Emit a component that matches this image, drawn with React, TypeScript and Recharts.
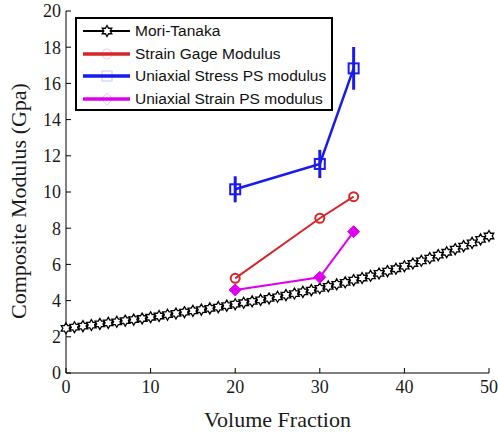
import { LineChart, Line, XAxis, YAxis, ErrorBar, Legend, Label } from 'recharts';

const volumeFractions = [
  0, 1, 2, 3, 4, 5, 6, 7, 8, 9, 10, 11, 12, 13, 14, 15, 16, 17, 18, 19, 20, 21, 22, 23, 24, 25,
  26, 27, 28, 29, 30, 31, 32, 33, 34, 35, 36, 37, 38, 39, 40, 41, 42, 43, 44, 45, 46, 47, 48, 49, 50,
];
const moriTanaka = [
  2.47, 2.53, 2.59, 2.65, 2.71, 2.77, 2.83, 2.89, 2.95, 3.01, 3.08,
  3.15, 3.22, 3.29, 3.36, 3.43, 3.5, 3.57, 3.64, 3.72, 3.8,
  3.88, 3.96, 4.04, 4.12, 4.21, 4.3, 4.39, 4.48, 4.58, 4.68,
  4.79, 4.9, 5.01, 5.13, 5.25, 5.37, 5.5, 5.63, 5.76, 5.9,
  6.05, 6.2, 6.35, 6.51, 6.67, 6.84, 7.01, 7.19, 7.38, 7.57,
];

const testFractions = [20, 30, 34];
const strainGage = [5.23, 8.55, 9.74];
const stressPS = [10.15, 11.55, 16.83];
const stressPSErr = [0.72, 0.78, 1.18];
const strainPS = [4.59, 5.29, 7.81];

const xTicks = [0, 10, 20, 30, 40, 50];
const yTicks = [0, 2, 4, 6, 8, 10, 12, 14, 16, 18, 20];

const RED = '#d7262b';
const BLUE = '#1a1aee';
const MAGENTA = '#dd00f0';

const moriData = volumeFractions.map((x, i) => ({ x, y: moriTanaka[i] }));
const gageData = testFractions.map((x, i) => ({ x, y: strainGage[i] }));
const stressData = testFractions.map((x, i) => ({ x, y: stressPS[i], err: stressPSErr[i] }));
const strainData = testFractions.map((x, i) => ({ x, y: strainPS[i] }));

function hexagramPath(cx: number, cy: number, r: number) {
  const pts: string[] = [];
  for (let k = 0; k < 12; k++) {
    const a = (k * 30 - 90) * (Math.PI / 180);
    const rr = k % 2 === 0 ? r : r / Math.sqrt(3);
    pts.push(`${cx + rr * Math.cos(a)},${cy + rr * Math.sin(a)}`);
  }
  return 'M' + pts.join('L') + 'Z';
}

const Hexagram = (p: any) => (
  <path key={`h${p.index}`} d={hexagramPath(p.cx, p.cy, 5.5)} fill="#fff" stroke="#000" strokeWidth={1.3} />
);
const Circle = (p: any) => (
  <circle key={`c${p.index}`} cx={p.cx} cy={p.cy} r={4.5} fill="none" stroke={RED} strokeWidth={2} />
);
const Square = (p: any) => (
  <rect key={`s${p.index}`} x={p.cx - 5} y={p.cy - 5} width={10} height={10} fill="none" stroke={BLUE} strokeWidth={2} />
);
const Diamond = (p: any) => (
  <path
    key={`d${p.index}`}
    d={`M${p.cx},${p.cy - 6}L${p.cx + 6},${p.cy}L${p.cx},${p.cy + 6}L${p.cx - 6},${p.cy}Z`}
    fill={MAGENTA}
    stroke={MAGENTA}
    strokeWidth={1}
  />
);

const legendItems = [
  { name: 'Mori-Tanaka', color: '#000', width: 2, marker: 'hex' },
  { name: 'Strain Gage Modulus', color: RED, width: 3.5, marker: 'circle' },
  { name: 'Uniaxial Stress PS modulus', color: BLUE, width: 3.5, marker: 'square' },
  { name: 'Uniaxial Strain PS modulus', color: MAGENTA, width: 3.5, marker: 'diamond' },
];

function LegendIcon({ color, width, marker }: { color: string; width: number; marker: string }) {
  const cx = 30;
  const cy = 11;
  return (
    <svg width={56} height={22} style={{ display: 'block' }}>
      <line x1={6} x2={53} y1={cy} y2={cy} stroke={color} strokeWidth={width} />
      {marker === 'hex' && <path d={hexagramPath(cx, cy, 5.5)} fill="#fff" stroke="#000" strokeWidth={1.3} />}
      {marker === 'circle' && <circle cx={cx} cy={cy} r={5} fill="none" stroke={color} strokeOpacity={0.25} />}
      {marker === 'square' && (
        <rect x={cx - 5} y={cy - 5} width={10} height={10} fill="none" stroke={color} strokeOpacity={0.25} />
      )}
      {marker === 'diamond' && (
        <path d={`M${cx},${cy - 6}L${cx + 6},${cy}L${cx},${cy + 6}L${cx - 6},${cy}Z`} fill="none" stroke={color} strokeOpacity={0.25} />
      )}
    </svg>
  );
}

function LegendBox() {
  return (
    <div
      style={{
        width: 258,
        height: 94,
        boxSizing: 'border-box',
        border: '2px solid #000',
        background: '#fff',
        paddingTop: 1,
        fontFamily: 'Liberation Sans, Arial, sans-serif',
        fontSize: 15.5,
        color: '#111',
      }}
    >
      {legendItems.map((it) => (
        <div key={it.name} style={{ display: 'flex', alignItems: 'center', height: 22.5 }}>
          <LegendIcon color={it.color} width={it.width} marker={it.marker} />
          <span style={{ marginLeft: 2, whiteSpace: 'nowrap' }}>{it.name}</span>
        </div>
      ))}
    </div>
  );
}

const serif = 'Liberation Serif, Times New Roman, serif';
const tickStyle = { fill: '#1a1a1a', fontSize: 18, fontFamily: serif };

export default function App() {
  return (
    <div style={{ position: 'absolute', left: 0, top: 0, width: 498, height: 434, background: '#fff' }}>
      <LineChart width={498} height={434} margin={{ top: 11, right: 9, bottom: 0, left: 0 }}>
        <XAxis
          type="number"
          dataKey="x"
          domain={[0, 50]}
          ticks={xTicks}
          allowDuplicatedCategory={false}
          height={61}
          tickSize={-5}
          tickMargin={12}
          stroke="#000"
          tick={tickStyle}
          tickLine={{ stroke: '#000' }}
        >
          <Label
            value="Volume Fraction"
            position="insideBottom"
            offset={7}
            style={{ fill: '#1a1a1a', fontSize: 22, fontFamily: serif }}
          />
        </XAxis>
        <YAxis
          type="number"
          dataKey="y"
          domain={[0, 20]}
          ticks={yTicks}
          width={66}
          tickSize={-5}
          tickMargin={10}
          stroke="#000"
          tick={tickStyle}
          tickLine={{ stroke: '#000' }}
        >
          <Label
            content={({ viewBox }: any) => {
              const cy = viewBox.y + viewBox.height / 2 + 9;
              return (
                <text
                  x={0}
                  y={0}
                  transform={`translate(26, ${cy}) rotate(-90)`}
                  textAnchor="middle"
                  fill="#1a1a1a"
                  fontSize={22}
                  fontFamily={serif}
                >
                  Composite Modulus (Gpa)
                </text>
              );
            }}
          />
        </YAxis>
        <Legend
          layout="vertical"
          align="center"
          verticalAlign="middle"
          wrapperStyle={{ left: 75, top: 17, width: 258, height: 94 }}
          content={() => <LegendBox />}
        />
        <Line
          data={moriData}
          dataKey="y"
          stroke="#000"
          strokeWidth={1.5}
          dot={Hexagram}
          activeDot={false}
          isAnimationActive={false}
          name="Mori-Tanaka"
        />
        <Line
          data={gageData}
          dataKey="y"
          stroke={RED}
          strokeWidth={2}
          dot={Circle}
          activeDot={false}
          isAnimationActive={false}
          name="Strain Gage Modulus"
        />
        <Line
          data={stressData}
          dataKey="y"
          stroke={BLUE}
          strokeWidth={2.5}
          dot={Square}
          activeDot={false}
          isAnimationActive={false}
          name="Uniaxial Stress PS modulus"
        >
          <ErrorBar dataKey="err" direction="y" width={0} stroke={BLUE} strokeWidth={3} isAnimationActive={false} />
        </Line>
        <Line
          data={strainData}
          dataKey="y"
          stroke={MAGENTA}
          strokeWidth={2}
          dot={Diamond}
          activeDot={false}
          isAnimationActive={false}
          name="Uniaxial Strain PS modulus"
        />
      </LineChart>
    </div>
  );
}
